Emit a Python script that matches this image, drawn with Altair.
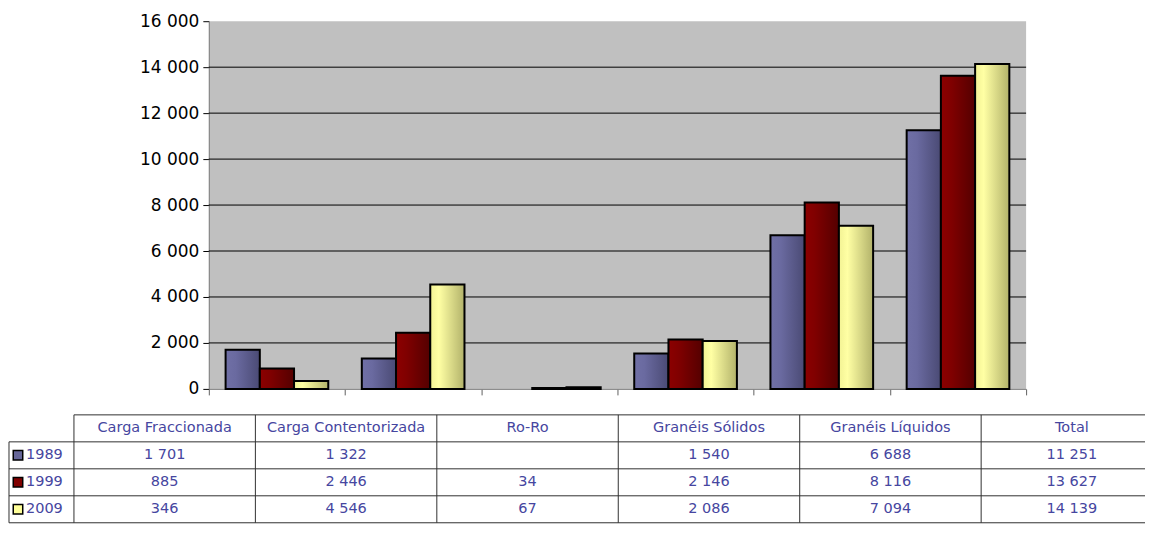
import altair as alt
import pandas as pd

# ---------------- data ----------------
categories = ["Carga Fraccionada", "Carga Contentorizada", "Ro-Ro",
              "Granéis Sólidos", "Granéis Líquidos", "Total"]
series = ["1989", "1999", "2009"]
values_1989 = [1701, 1322, None, 1540, 6688, 11251]
values_1999 = [885, 2446, 34, 2146, 8116, 13627]
values_2009 = [346, 4546, 67, 2086, 7094, 14139]
y_ticks = [0, 2000, 4000, 6000, 8000, 10000, 12000, 14000, 16000]

series_values = {"1989": values_1989, "1999": values_1999, "2009": values_2009}
swatch_colors = {"1989": "#666699", "1999": "#800000", "2009": "#FFFF99"}

# ---------------- layout (pixels) ----------------
PLOT_W, PLOT_H = 818, 368
COL_W = 181.6          # width of one table column
TABLE_X0 = -135        # left edge of first data column, relative to plot left
LABEL_W = 65           # width of the legend/label column
TABLE_RIGHT = 937      # right end of table lines, relative to plot left
ROW_H = 27
TABLE_Y0 = 394         # top of table, relative to plot top
FONT = "DejaVu Sans"
TXT = "#4646A0"

def gradient(stops):
    return alt.Gradient(gradient="linear", x1=0, x2=1, y1=0, y2=0,
                        stops=[alt.GradientStop(offset=o, color=c) for o, c in stops])

fills = {
    "1989": gradient([(0, "#7070a6"), (0.3, "#6a6aa0"), (1, "#4a4a74")]),
    "1999": gradient([(0, "#8c0000"), (0.3, "#800000"), (1, "#540000")]),
    "2009": gradient([(0, "#f2f294"), (0.25, "#ffffa4"), (1, "#b2b26a")]),
}

rows = []
for s in series:
    for c, v in zip(categories, series_values[s]):
        if v is not None:
            rows.append({"category": c, "series": s, "value": v})
bars_df = pd.DataFrame(rows)

# ---------------- plot ----------------
x_enc = alt.X("category:N", sort=categories,
              scale=alt.Scale(domain=categories, paddingInner=0, paddingOuter=0),
              axis=alt.Axis(labels=False, title=None, tickBand="extent", tickSize=6,
                            tickColor="#606060", domainColor="#808080", grid=False))
xo_enc = alt.XOffset("series:N", sort=series,
                     scale=alt.Scale(domain=series, paddingInner=0, paddingOuter=0.49))
y_enc = alt.Y("value:Q", scale=alt.Scale(domain=[0, 16000], nice=False),
              axis=alt.Axis(values=y_ticks, title=None, grid=False, tickSize=6,
                            tickColor="black", domainColor="#808080",
                            labelExpr="replace(format(datum.value, ','), ',', ' ')",
                            labelFont=FONT, labelFontSize=17, labelColor="black",
                            labelPadding=4))

grid_df = pd.DataFrame({"value": [t for t in y_ticks if 0 < t < 16000]})
grid = alt.Chart(grid_df).mark_rule(color="black", strokeWidth=1).encode(y=y_enc)

bar_layers = [
    alt.Chart(bars_df).transform_filter(alt.datum.series == s)
    .mark_bar(fill=fills[s], stroke="black", strokeWidth=2)
    .encode(x=x_enc, xOffset=xo_enc, y=y_enc)
    for s in series
]
plot = alt.layer(grid, *bar_layers)

# ---------------- data table ----------------
x_dom0 = -TABLE_X0 / COL_W
tx = alt.Scale(domain=[x_dom0, x_dom0 + PLOT_W / COL_W], nice=False, zero=False)
y_dom0 = -TABLE_Y0 / ROW_H
ty = alt.Scale(domain=[y_dom0, y_dom0 + PLOT_H / ROW_H], nice=False, zero=False, reverse=True)

L = -LABEL_W / COL_W
R = (TABLE_RIGHT - TABLE_X0) / COL_W
n_rows = len(series) + 1
line_rows = [{"x": 0, "x2": R, "y": 0, "y2": 0}]
line_rows += [{"x": L, "x2": R, "y": r, "y2": r} for r in range(1, n_rows + 1)]
line_rows += [{"x": k, "x2": k, "y": 0, "y2": n_rows} for k in range(len(categories))]
line_rows += [{"x": L, "x2": L, "y": 1, "y2": n_rows}]
lines_df = pd.DataFrame(line_rows)

lines = alt.Chart(lines_df).mark_rule(color="#303030", strokeWidth=1).encode(
    x=alt.X("x:Q", scale=tx, axis=None), x2="x2:Q",
    y=alt.Y("y:Q", scale=ty, axis=None), y2="y2:Q")

header_df = pd.DataFrame({"col": [i + 0.5 for i in range(len(categories))],
                          "row": [0.5] * len(categories), "text": categories})
cell_rows = []
for i, s in enumerate(series):
    for k, v in enumerate(series_values[s]):
        cell_rows.append({"col": k + 0.5, "row": i + 1.5,
                          "text": "" if v is None else f"{v:,}".replace(",", " ")})
cells_df = pd.concat([header_df, pd.DataFrame(cell_rows)], ignore_index=True)

cells = alt.Chart(cells_df).mark_text(font=FONT, fontSize=14.5, color=TXT,
                                      align="center", baseline="middle").encode(
    x=alt.X("col:Q", scale=tx, axis=None), y=alt.Y("row:Q", scale=ty, axis=None),
    text="text:N")

legend_df = pd.DataFrame({"series": series,
                          "row": [i + 1.5 for i in range(len(series))],
                          "sw": [(-LABEL_W + 9) / COL_W] * len(series),
                          "tx": [(-LABEL_W + 17) / COL_W] * len(series)})
swatches = alt.Chart(legend_df).mark_square(size=90, stroke="black", strokeWidth=1.5,
                                            opacity=1).encode(
    x=alt.X("sw:Q", scale=tx, axis=None), y=alt.Y("row:Q", scale=ty, axis=None),
    fill=alt.Fill("series:N", scale=alt.Scale(domain=series,
                                              range=[swatch_colors[s] for s in series]),
                  legend=None))
years = alt.Chart(legend_df).mark_text(font=FONT, fontSize=14.5, color=TXT,
                                       align="left", baseline="middle").encode(
    x=alt.X("tx:Q", scale=tx, axis=None), y=alt.Y("row:Q", scale=ty, axis=None),
    text="series:N")

table = alt.layer(lines, cells, swatches, years)

chart = alt.layer(plot, table).resolve_scale(x="independent", y="independent").properties(
    width=PLOT_W, height=PLOT_H,
    padding={"left": 0, "top": 4, "right": 0, "bottom": 0},
    background="white",
).configure_view(fill="#C0C0C0", stroke=None)

chart.save("out.html", embed_options={"renderer": "svg", "actions": False})
